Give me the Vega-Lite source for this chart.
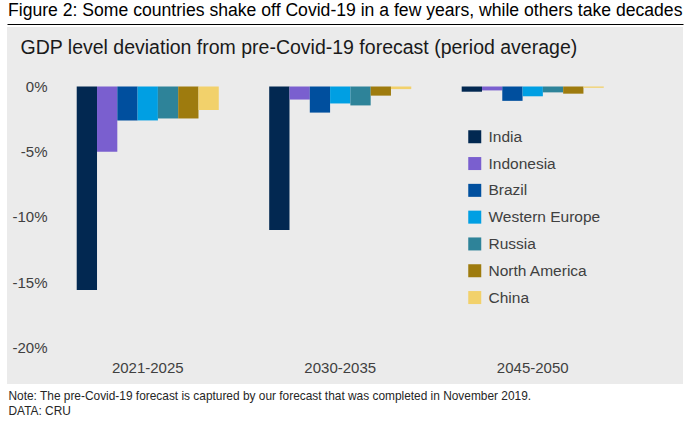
{
  "$schema": "https://vega.github.io/schema/vega-lite/v6.json",
  "autosize": "none",
  "width": 676,
  "height": 357,
  "padding": {"left": 7, "top": 27, "right": 15, "bottom": 39},
  "background": "white",
  "config": {
    "font": "Liberation Sans",
    "view": {"fill": "#ebebeb", "stroke": null}
  },
  "title": {
    "text": "Figure 2: Some countries shake off Covid-19 in a few years, while others take decades",
    "anchor": "start",
    "fontSize": 17.6,
    "fontWeight": "normal",
    "color": "#000000",
    "offset": 4,
    "dx": 1
  },
  "data": {
    "values": [
      {"period": "2021-2025", "country": "India", "value": -15.6},
      {"period": "2021-2025", "country": "Indonesia", "value": -5.0},
      {"period": "2021-2025", "country": "Brazil", "value": -2.6},
      {"period": "2021-2025", "country": "Western Europe", "value": -2.6},
      {"period": "2021-2025", "country": "Russia", "value": -2.45},
      {"period": "2021-2025", "country": "North America", "value": -2.45},
      {"period": "2021-2025", "country": "China", "value": -1.8},
      {"period": "2030-2035", "country": "India", "value": -11.0},
      {"period": "2030-2035", "country": "Indonesia", "value": -1.0},
      {"period": "2030-2035", "country": "Brazil", "value": -2.0},
      {"period": "2030-2035", "country": "Western Europe", "value": -1.3},
      {"period": "2030-2035", "country": "Russia", "value": -1.45},
      {"period": "2030-2035", "country": "North America", "value": -0.7},
      {"period": "2030-2035", "country": "China", "value": -0.2},
      {"period": "2045-2050", "country": "India", "value": -0.4},
      {"period": "2045-2050", "country": "Indonesia", "value": -0.3},
      {"period": "2045-2050", "country": "Brazil", "value": -1.1},
      {"period": "2045-2050", "country": "Western Europe", "value": -0.75},
      {"period": "2045-2050", "country": "Russia", "value": -0.45},
      {"period": "2045-2050", "country": "North America", "value": -0.55},
      {"period": "2045-2050", "country": "China", "value": -0.1}
    ]
  },
  "encoding": {
    "x": {
      "field": "period",
      "type": "nominal",
      "sort": null,
      "scale": {"paddingInner": 0.262, "paddingOuter": 0.387, "align": 0.468}
    }
  },
  "layer": [
    {
      "mark": {"type": "bar"},
      "encoding": {
        "x": {
          "field": "period",
          "type": "nominal",
          "sort": null,
          "axis": {
            "orient": "bottom",
            "offset": -25,
            "domain": false,
            "ticks": false,
            "labelAngle": 0,
            "labelFontSize": 15,
            "labelColor": "#404040",
            "labelPadding": 1,
            "title": [
              "Note: The pre-Covid-19 forecast is captured by our forecast that was completed in November 2019.",
              "DATA: CRU"
            ],
            "titleFontSize": 11.9,
            "titleFontWeight": "normal",
            "titleColor": "#262626",
            "titleAnchor": null,
            "titleAlign": "left",
            "titleBaseline": "top",
            "titleLineHeight": 15,
            "titleX": 1,
            "titleY": 31
          }
        },
        "xOffset": {
          "field": "country",
          "type": "nominal",
          "sort": null,
          "scale": {"paddingInner": 0, "paddingOuter": 0}
        },
        "y": {
          "field": "value",
          "type": "quantitative",
          "scale": {"domain": [-22.8, 4.56], "nice": false, "zero": false},
          "axis": {
            "orient": "left",
            "offset": -45,
            "values": [-20, -15, -10, -5, 0],
            "labelExpr": "datum.value + '%'",
            "domain": false,
            "ticks": false,
            "grid": false,
            "labelFontSize": 15,
            "labelColor": "#404040",
            "labelPadding": 5,
            "title": "GDP level deviation from pre-Covid-19 forecast (period average)",
            "titleAngle": 0,
            "titleAlign": "left",
            "titleBaseline": "alphabetic",
            "titleFontSize": 19.5,
            "titleFontWeight": "normal",
            "titleColor": "#1a1a1a",
            "titleX": -32,
            "titleY": 26
          }
        },
        "color": {
          "field": "country",
          "type": "nominal",
          "scale": {
            "domain": ["India", "Indonesia", "Brazil", "Western Europe", "Russia", "North America", "China"],
            "range": ["#022851", "#7a5fcf", "#004f9e", "#009fe3", "#2e8399", "#9e7b0e", "#f2d16b"]
          },
          "legend": {
            "orient": "none",
            "legendX": 460,
            "legendY": 102,
            "title": null,
            "symbolType": "square",
            "symbolSize": 169,
            "symbolStrokeWidth": 0,
            "symbolOpacity": 1,
            "labelFontSize": 15.5,
            "labelColor": "#404040",
            "labelOffset": 6,
            "rowPadding": 9.8
          }
        }
      }
    },
    {
      "mark": {"type": "rule", "opacity": 0},
      "encoding": {
        "x": {
          "field": "period",
          "type": "nominal",
          "sort": null,
          "axis": {
            "orient": "top",
            "offset": 3,
            "domain": true,
            "domainColor": "#000000",
            "domainWidth": 1.2,
            "labels": false,
            "ticks": false,
            "title": null
          }
        }
      }
    }
  ],
  "resolve": {"axis": {"x": "independent"}}
}
